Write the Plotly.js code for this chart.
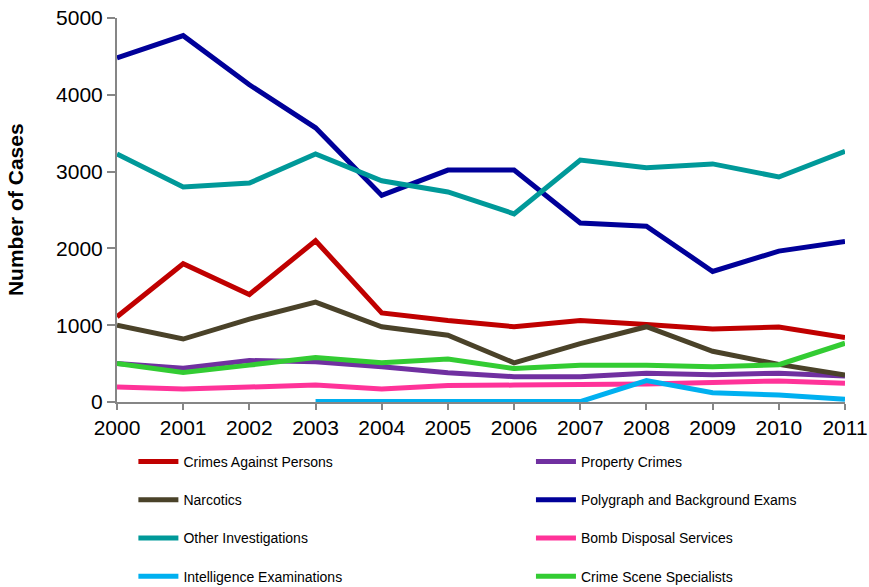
<!DOCTYPE html>
<html><head><meta charset="utf-8">
<script src="https://cdn.plot.ly/plotly-3.0.1.min.js"></script>
<style>body{margin:0;background:#fff}#c{width:869px;height:587px}</style>
</head><body><div id="c"></div>
<script>
const years = [2000,2001,2002,2003,2004,2005,2006,2007,2008,2009,2010,2011];
const crimesAgainstPersons = [1110,1800,1400,2100,1160,1060,980,1060,1010,950,975,840];
const propertyCrimes = [500,440,540,525,460,380,330,330,375,355,375,340];
const narcotics = [1000,820,1080,1300,980,870,510,760,980,660,490,350];
const polygraph = [4480,4770,4130,3570,2690,3020,3020,2330,2290,1700,1965,2090];
const otherInvestigations = [3230,2800,2850,3230,2880,2735,2450,3150,3050,3100,2930,3265];
const bombDisposal = [195,170,195,220,170,215,220,220,235,255,275,245];
const intelYears = [2003,2004,2005,2006,2007,2008,2009,2010,2011];
const intelligence = [5,5,5,5,5,280,120,90,35];
const crimeScene = [500,385,480,580,510,560,435,480,480,460,485,765];

const names = ["Crimes Against Persons","Property Crimes","Narcotics","Polygraph and Background Exams","Other Investigations","Bomb Disposal Services","Intelligence Examinations","Crime Scene Specialists"];
const colors = ["#C00000","#7030A0","#4A4229","#000099","#009999","#FF3399","#00B0F0","#33CC33"];
const series = [crimesAgainstPersons,propertyCrimes,narcotics,polygraph,otherInvestigations,bombDisposal,intelligence,crimeScene];
const legendOf = ["legend","legend2","legend","legend2","legend","legend2","legend","legend2"];

const traces = series.map((s,i)=>({
  x: i===6 ? intelYears : years,
  y: s, type:"scatter", mode:"lines", name:names[i],
  line:{color:colors[i], width:5},
  legend: legendOf[i], legendgroup:"g"+i
}));

const legCommon = {orientation:"v", xanchor:"left", yanchor:"top", xref:"container", yref:"container", y:0.2402,
  font:{family:"Liberation Sans, Arial, sans-serif", size:14, color:"#000"},
  bgcolor:"rgba(0,0,0,0)", tracegroupgap:17, itemwidth:40};

const layout = {
  width:869, height:587,
  margin:{l:117, r:24, t:18, b:185, autoexpand:false},
  paper_bgcolor:"#fff", plot_bgcolor:"#fff",
  showlegend:true,
  font:{family:"Liberation Sans, Arial, sans-serif", color:"#000"},
  xaxis:{range:[2000,2011], dtick:1, tick0:2000, showgrid:false, zeroline:false,
    showline:true, linecolor:"#868686", linewidth:2, ticks:"outside", ticklen:6, tickcolor:"#868686", tickwidth:2,
    tickfont:{size:21}},
  yaxis:{range:[0,5000], dtick:1000, showgrid:false, zeroline:false,
    showline:true, linecolor:"#868686", linewidth:2, ticks:"outside", ticklen:8, tickcolor:"#868686", tickwidth:2,
    tickfont:{size:21}},
  annotations:[{text:"<b>Number of Cases</b>", textangle:-90, xref:"paper", yref:"paper",
    x:-0.14, y:0.5, xanchor:"center", yanchor:"middle", showarrow:false, font:{size:21}}],
  legend: Object.assign({}, legCommon, {x:0.1535}),
  legend2: Object.assign({}, legCommon, {x:0.611})
};
Plotly.newPlot("c", traces, layout, {displayModeBar:false, staticPlot:true});
</script></body></html>
